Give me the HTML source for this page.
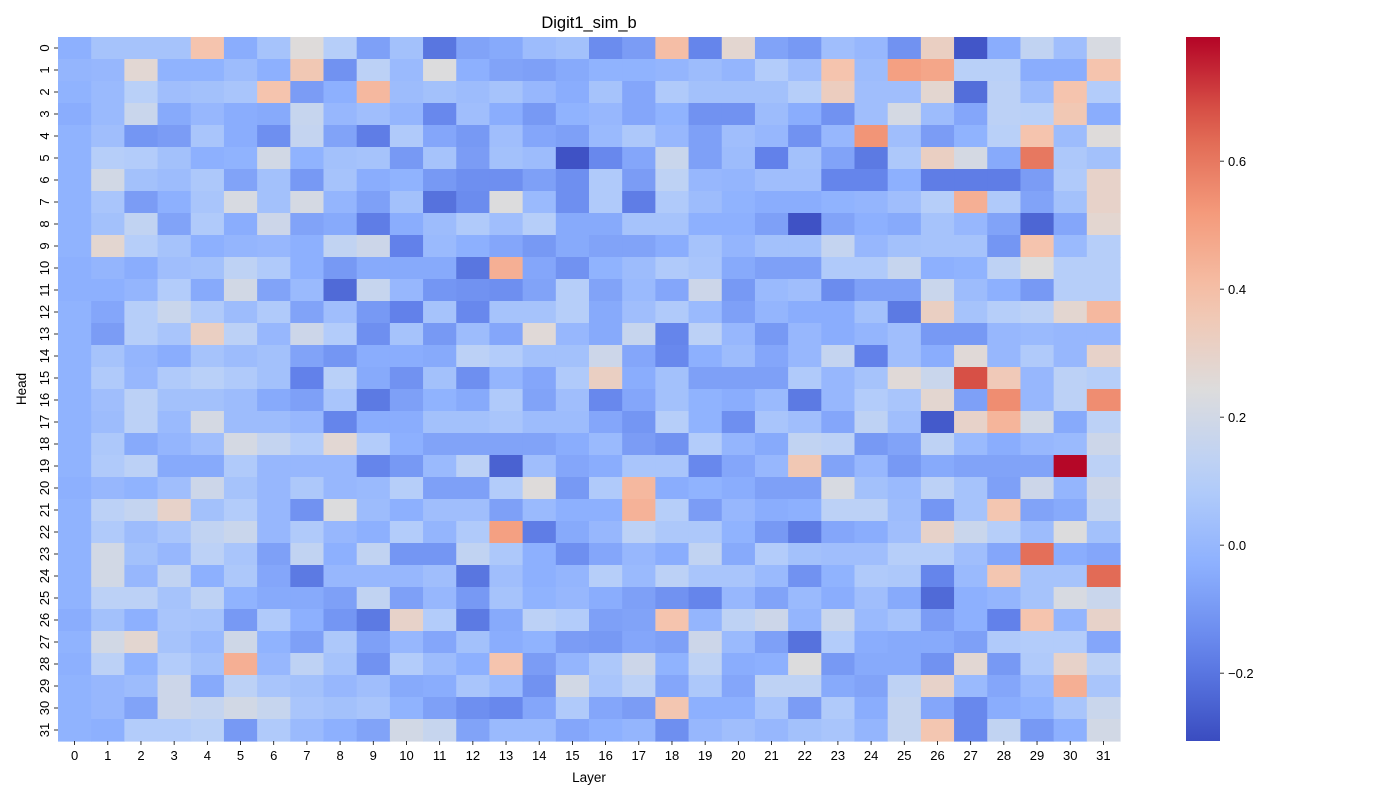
<!DOCTYPE html>
<html><head><meta charset="utf-8"><title>Digit1_sim_b</title>
<style>
html,body{margin:0;padding:0;background:#fff;}
svg{display:block;font-family:"Liberation Sans","DejaVu Sans",sans-serif;}
</style></head>
<body>
<svg id="chart" width="1400" height="800" viewBox="0 0 1400 800" xmlns="http://www.w3.org/2000/svg">
<text x="589" y="28" font-size="16.5" text-anchor="middle" fill="#000">Digit1_sim_b</text>
<text x="0" y="0" font-size="13.5" text-anchor="middle" fill="#000" transform="translate(26,389) rotate(-90)">Head</text>
<text x="589" y="782" font-size="13.5" text-anchor="middle" fill="#000">Layer</text>
<g id="cells"></g>
<g id="xticks"></g>
<g id="yticks"></g>
<defs><linearGradient id="cbgrad" x1="0" y1="1" x2="0" y2="0"></linearGradient></defs>
<rect id="cbar" x="1186" y="37" width="34" height="704" fill="url(#cbgrad)"/>
<g id="cbticks"></g>
</svg>
<script>
const layers = Array.from({length:32},(_, i)=>i);
const heads = Array.from({length:32},(_, i)=>i);
const vmin = -0.306, vmax = 0.794;
const cbTickValues = [-0.2, 0.0, 0.2, 0.4, 0.6];
const cbTickLabels = ["\u22120.2","0.0","0.2","0.4","0.6"];
const values = [
[-0.03,0.05,0.05,0.05,0.38,-0.04,0.05,0.25,0.1,-0.08,0.04,-0.2,-0.07,-0.05,0.02,0.04,-0.14,-0.09,0.4,-0.16,0.28,-0.07,-0.1,0.03,0.0,-0.12,0.32,-0.28,-0.04,0.14,0.03,0.22],
[-0.01,0.0,0.27,-0.02,-0.02,0.02,-0.03,0.36,-0.12,0.12,0.01,0.24,-0.03,-0.07,-0.08,-0.05,-0.02,-0.02,-0.01,0.02,-0.01,0.09,0.03,0.38,0.02,0.5,0.48,0.11,0.11,-0.04,-0.04,0.38],
[-0.02,0.01,0.11,0.03,0.04,0.06,0.38,-0.09,-0.03,0.42,0.02,0.04,0.02,0.05,0.0,-0.04,0.05,-0.06,0.08,0.04,0.04,0.04,0.1,0.33,0.03,0.03,0.28,-0.22,0.12,0.02,0.38,0.09],
[-0.04,0.01,0.17,-0.05,0.0,-0.04,-0.05,0.16,0.0,0.03,-0.01,-0.15,0.03,-0.04,-0.1,-0.02,0.0,-0.06,-0.02,-0.12,-0.12,0.02,-0.04,-0.12,0.03,0.21,0.02,-0.06,0.12,0.11,0.36,-0.04],
[-0.02,0.03,-0.11,-0.09,0.06,-0.04,-0.13,0.15,-0.07,-0.18,0.08,-0.06,-0.1,0.03,-0.06,-0.08,0.01,0.07,0.0,-0.08,0.03,0.0,-0.12,0.0,0.53,0.03,-0.09,-0.02,0.11,0.38,0.02,0.25],
[-0.02,0.1,0.09,0.04,-0.03,-0.02,0.2,-0.02,0.04,0.05,-0.1,0.05,-0.09,0.04,0.02,-0.29,-0.15,-0.06,0.17,-0.08,0.02,-0.17,0.04,-0.07,-0.19,0.07,0.32,0.21,-0.05,0.6,0.07,0.04],
[-0.02,0.2,0.04,0.02,0.07,-0.07,0.04,-0.1,0.05,-0.04,-0.02,-0.1,-0.13,-0.13,-0.08,-0.13,0.08,-0.09,0.13,0.0,-0.01,0.03,0.03,-0.16,-0.16,-0.03,-0.18,-0.18,-0.18,-0.09,0.08,0.3],
[-0.02,0.06,-0.09,-0.03,0.06,0.22,0.04,0.21,-0.01,-0.08,0.04,-0.21,-0.14,0.24,0.01,-0.13,0.08,-0.18,0.08,0.02,-0.02,-0.04,-0.04,-0.02,-0.01,0.03,0.1,0.45,0.08,-0.07,0.04,0.3],
[-0.02,0.04,0.14,-0.07,0.08,-0.04,0.18,-0.07,-0.05,-0.18,-0.04,0.02,0.08,0.03,0.1,-0.05,-0.05,0.05,0.05,-0.03,-0.03,-0.08,-0.29,-0.07,-0.03,-0.05,0.05,0.0,-0.07,-0.24,-0.06,0.28],
[-0.02,0.28,0.1,0.05,-0.03,-0.01,0.0,-0.03,0.14,0.18,-0.17,0.01,-0.03,-0.06,-0.1,-0.05,-0.07,-0.07,-0.04,0.05,-0.01,0.04,0.04,0.15,0.0,0.04,0.05,0.05,-0.11,0.38,0.01,0.1],
[-0.03,-0.01,-0.04,0.03,0.04,0.13,0.08,-0.03,-0.1,-0.05,-0.05,-0.05,-0.2,0.45,-0.06,-0.12,-0.02,0.02,0.08,0.06,-0.05,-0.08,-0.08,0.08,0.08,0.16,-0.03,-0.02,0.13,0.24,0.1,0.1],
[-0.03,-0.03,-0.01,0.09,-0.05,0.2,-0.07,0.01,-0.23,0.16,0.0,-0.11,-0.12,-0.13,-0.07,0.1,-0.07,0.01,-0.06,0.18,-0.1,0.01,0.03,-0.14,-0.08,-0.08,0.17,0.02,-0.03,-0.1,0.1,0.1],
[-0.02,-0.06,0.1,0.17,0.08,0.02,0.08,-0.07,0.03,-0.1,-0.17,0.05,-0.15,0.05,0.05,0.1,-0.05,0.03,0.08,0.01,-0.08,-0.01,-0.04,-0.04,0.04,-0.19,0.32,0.05,0.1,0.12,0.28,0.42],
[-0.02,-0.09,0.1,0.06,0.32,0.12,0.0,0.18,0.09,-0.13,0.05,-0.1,0.02,-0.06,0.26,0.0,-0.05,0.16,-0.16,0.12,0.0,-0.1,0.0,-0.04,-0.01,0.03,-0.1,-0.1,0.0,0.01,0.0,0.0],
[-0.02,0.05,-0.01,-0.04,0.05,0.02,0.04,-0.07,-0.11,-0.04,-0.04,-0.05,0.12,0.09,0.04,0.04,0.18,-0.06,-0.15,-0.03,0.02,-0.06,0.0,0.15,-0.17,0.03,-0.04,0.26,0.0,0.08,0.0,0.3],
[-0.02,0.08,0.0,0.08,0.11,0.08,0.04,-0.17,0.11,-0.05,-0.12,0.04,-0.13,-0.01,-0.06,0.08,0.32,-0.04,0.04,-0.08,-0.08,-0.08,0.08,0.0,0.05,0.26,0.17,0.68,0.35,0.0,0.12,0.1],
[-0.02,0.03,0.12,0.04,0.04,0.02,-0.05,-0.08,0.06,-0.19,-0.08,-0.02,-0.05,0.08,-0.07,0.03,-0.15,-0.06,0.04,-0.02,-0.04,0.01,-0.19,0.0,0.09,0.06,0.28,-0.08,0.55,0.0,0.12,0.55],
[-0.02,0.02,0.12,0.01,0.21,0.02,0.02,0.0,-0.16,-0.04,-0.04,0.04,0.04,0.06,0.02,0.02,-0.06,-0.11,0.1,-0.02,-0.13,0.06,0.03,-0.06,0.13,0.03,-0.27,0.3,0.43,0.2,-0.05,0.12],
[-0.02,0.07,-0.05,-0.01,0.03,0.21,0.15,0.09,0.27,0.09,-0.03,-0.07,-0.07,-0.07,-0.07,-0.04,0.01,-0.09,-0.12,0.09,-0.01,-0.05,0.14,0.12,-0.1,-0.07,0.13,0.01,-0.04,0.0,0.01,0.18],
[-0.02,0.08,0.12,-0.05,-0.05,0.08,0.0,0.0,0.0,-0.16,-0.1,0.01,0.12,-0.25,0.03,-0.06,-0.04,0.06,0.06,-0.15,-0.06,0.0,0.36,-0.07,0.0,-0.1,-0.05,-0.07,-0.07,-0.07,0.79,0.12],
[-0.03,0.0,-0.02,0.03,0.18,0.05,0.0,0.07,0.0,0.01,0.1,-0.08,-0.08,0.09,0.25,-0.1,0.08,0.42,-0.04,-0.02,-0.04,-0.08,-0.08,0.22,0.04,0.01,0.12,0.05,-0.08,0.18,-0.01,0.18],
[-0.02,0.12,0.15,0.3,0.04,0.09,0.0,-0.12,0.24,0.02,-0.03,0.03,0.03,-0.08,0.01,-0.03,-0.03,0.44,0.1,-0.09,0.0,-0.04,-0.03,0.12,0.12,0.02,-0.11,0.05,0.37,-0.07,-0.05,0.15],
[-0.02,0.08,0.02,0.06,0.14,0.17,0.0,0.08,0.0,-0.03,0.09,-0.01,0.08,0.5,-0.18,-0.05,0.0,0.12,0.07,0.07,-0.02,-0.1,-0.19,-0.06,-0.04,0.03,0.3,0.17,0.1,0.02,0.24,0.04],
[-0.02,0.2,0.04,0.0,0.12,0.06,-0.08,0.14,-0.03,0.14,-0.11,-0.11,0.14,0.07,-0.03,-0.13,-0.06,0.0,-0.04,0.14,-0.05,0.09,0.04,0.03,0.03,0.1,0.1,0.03,-0.06,0.62,-0.04,-0.06],
[-0.02,0.2,0.0,0.14,-0.03,0.07,-0.06,-0.19,0.0,0.0,0.0,0.03,-0.2,0.03,-0.03,-0.01,0.1,0.01,0.12,0.06,0.06,0.01,-0.12,-0.02,0.08,0.07,-0.16,0.01,0.37,0.05,0.05,0.63],
[-0.02,0.12,0.12,0.05,0.13,-0.02,-0.05,-0.05,-0.08,0.14,-0.08,0.0,-0.1,0.05,-0.02,0.0,-0.04,-0.08,-0.12,-0.16,0.0,-0.07,0.01,-0.04,0.03,-0.05,-0.23,-0.03,-0.01,0.05,0.22,0.17],
[-0.04,0.04,-0.03,0.06,0.05,-0.1,0.08,-0.03,-0.11,-0.19,0.3,0.09,-0.19,-0.05,0.12,0.09,-0.08,-0.07,0.38,-0.01,0.13,0.18,-0.01,0.17,0.01,0.05,-0.09,-0.03,-0.17,0.38,-0.01,0.3],
[-0.02,0.2,0.28,0.05,0.01,0.19,-0.02,-0.08,0.07,-0.08,0.0,-0.06,0.04,-0.04,-0.02,-0.09,-0.1,-0.06,-0.08,0.18,0.01,-0.08,-0.21,0.09,-0.04,-0.05,-0.05,-0.08,0.08,0.09,0.09,-0.06],
[-0.03,0.12,-0.02,0.09,0.04,0.45,0.0,0.13,0.05,-0.12,0.09,0.02,-0.03,0.38,-0.09,-0.01,0.07,0.18,-0.02,0.13,-0.04,-0.03,0.24,-0.1,-0.05,-0.05,-0.12,0.27,-0.1,0.08,0.3,0.12],
[-0.02,0.0,0.02,0.18,-0.05,0.12,0.06,0.04,0.0,0.03,-0.05,-0.04,0.06,0.01,-0.12,0.2,0.06,0.12,-0.06,0.07,-0.06,0.13,0.13,-0.05,-0.07,0.13,0.3,0.01,-0.06,0.01,0.45,0.06],
[-0.02,0.0,-0.07,0.18,0.15,0.2,0.16,0.06,0.04,0.06,-0.02,-0.08,-0.13,-0.15,-0.06,0.08,-0.06,-0.09,0.37,-0.03,-0.03,0.06,-0.09,0.08,-0.04,0.15,-0.06,-0.15,-0.04,-0.02,0.06,0.17],
[-0.02,-0.03,0.09,0.09,0.11,-0.1,0.08,0.01,-0.03,-0.07,0.2,0.16,-0.07,0.01,0.01,-0.06,-0.03,-0.01,-0.13,0.0,0.03,0.0,0.04,0.06,-0.01,0.15,0.37,-0.15,0.14,-0.1,-0.03,0.2]
];

// coolwarm stops
const cmStops = [[0,[58,76,192]],[0.125,[98,130,234]],[0.25,[141,176,254]],[0.375,[184,208,249]],[0.5,[221,220,220]],[0.625,[245,196,173]],[0.75,[244,154,123]],[0.875,[222,96,77]],[1,[180,4,38]]];
function cmap(t){
  t=Math.max(0,Math.min(1,t));
  for(let i=0;i<cmStops.length-1;i++){
    const [a,ca]=cmStops[i],[b,cb]=cmStops[i+1];
    if(t<=b){const f=(t-a)/(b-a);return 'rgb('+ca.map((c,k)=>Math.round(c+(cb[k]-c)*f)).join(',')+')';}
  }
  return 'rgb(180,4,38)';
}
const X0=58,X1=1120,Y0=37,Y1=741;
const cw=(X1-X0)/layers.length, ch=(Y1-Y0)/heads.length;
function xScale(i){return X0+i*cw;}
function yScale(j){return Y0+j*ch;}
function cbScale(v){return Y1-(v-vmin)/(vmax-vmin)*(Y1-Y0);}
const NS='http://www.w3.org/2000/svg';
const cells=document.getElementById('cells');
heads.forEach((h,j)=>{
  layers.forEach((l,i)=>{
    const r=document.createElementNS(NS,'rect');
    r.setAttribute('x',xScale(i).toFixed(2));
    r.setAttribute('y',yScale(j).toFixed(2));
    r.setAttribute('width',(cw+0.6).toFixed(2));
    r.setAttribute('height',(ch+0.6).toFixed(2));
    r.setAttribute('fill',cmap((values[j][i]-vmin)/(vmax-vmin)));
    
    
    cells.appendChild(r);
  });
});
const xt=document.getElementById('xticks');
layers.forEach((l,i)=>{
  const cx=xScale(i)+cw/2;
  const ln=document.createElementNS(NS,'line');
  ln.setAttribute('x1',cx);ln.setAttribute('x2',cx);ln.setAttribute('y1',Y1);ln.setAttribute('y2',Y1+4);
  ln.setAttribute('stroke','#000');ln.setAttribute('stroke-width','0.8');
  
  
  xt.appendChild(ln);
  const t=document.createElementNS(NS,'text');
  t.setAttribute('x',cx);t.setAttribute('y',Y1+19);t.setAttribute('font-size','13');t.setAttribute('text-anchor','middle');
  t.textContent=String(l);
  
  
  xt.appendChild(t);
});
const yt=document.getElementById('yticks');
heads.forEach((h,j)=>{
  const cy=yScale(j)+ch/2;
  const ln=document.createElementNS(NS,'line');
  ln.setAttribute('x1',X0-4);ln.setAttribute('x2',X0);ln.setAttribute('y1',cy);ln.setAttribute('y2',cy);
  ln.setAttribute('stroke','#000');ln.setAttribute('stroke-width','0.8');
  
  
  yt.appendChild(ln);
  const t=document.createElementNS(NS,'text');
  t.setAttribute('transform','translate('+(X0-9)+','+cy+') rotate(-90)');
  t.setAttribute('font-size','13');t.setAttribute('text-anchor','middle');
  t.textContent=String(h);
  
  
  yt.appendChild(t);
});
const grad=document.getElementById('cbgrad');
for(let k=0;k<=20;k++){
  const s=document.createElementNS(NS,'stop');
  s.setAttribute('offset',(k/20));
  s.setAttribute('stop-color',cmap(k/20));
  grad.appendChild(s);
}
const cbt=document.getElementById('cbticks');
cbTickValues.forEach((v,i)=>{
  const y=cbScale(v);
  const ln=document.createElementNS(NS,'line');
  ln.setAttribute('x1',1220);ln.setAttribute('x2',1224);ln.setAttribute('y1',y);ln.setAttribute('y2',y);
  ln.setAttribute('stroke','#000');ln.setAttribute('stroke-width','0.8');
  
  
  cbt.appendChild(ln);
  const t=document.createElementNS(NS,'text');
  t.setAttribute('x',1228);t.setAttribute('y',y+5);t.setAttribute('font-size','13');
  t.textContent=cbTickLabels[i];
  
  
  cbt.appendChild(t);
});
</script>
</body></html>
